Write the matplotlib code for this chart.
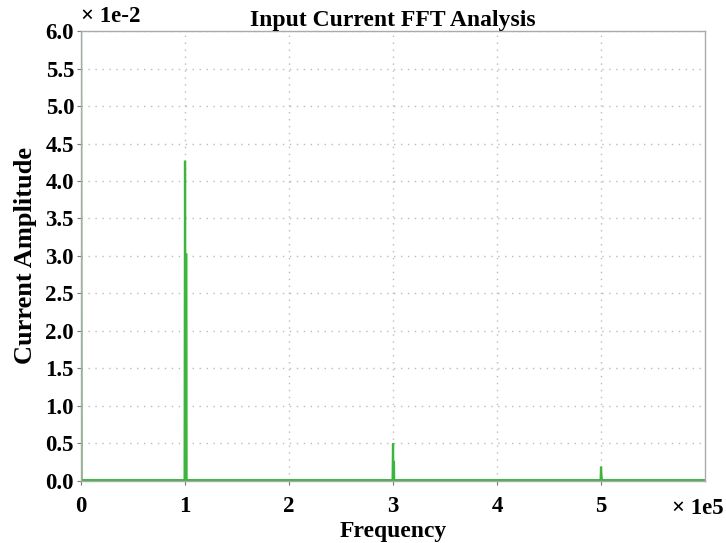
import matplotlib
matplotlib.use('Agg')
import matplotlib.pyplot as plt

# FFT spectrum of the input current (frequency in Hz, amplitude in units of 1e-2)
freq_hz = [0, 0, 500, 99600, 100000, 100150, 101300, 101500,
           299600, 300000, 300150, 300900, 301100,
           499600, 500000, 500300, 500900, 600000]
amp_e2 = [6.5, 6.5, 0.0, 0.0, 4.27, 3.02, 3.02, 0.0,
          0.0, 0.50, 0.25, 0.25, 0.0,
          0.0, 0.19, 0.10, 0.0, 0.0]

x_ticks = [0, 1, 2, 3, 4, 5]
y_ticks = [0.0, 0.5, 1.0, 1.5, 2.0, 2.5, 3.0, 3.5, 4.0, 4.5, 5.0, 5.5, 6.0]

plt.rcParams['font.family'] = ['Liberation Serif', 'DejaVu Serif']
plt.rcParams['font.weight'] = 'bold'

fig = plt.figure(figsize=(7.26, 5.43), dpi=100)
ax = fig.add_axes([0.1116, 0.1142, 0.8595, 0.8287])

xs = [f / 1e5 for f in freq_hz]
ax.plot(xs, amp_e2, color='#3cb53c', lw=1.6, solid_joinstyle='miter')
# heavier baseline along zero
ax.axhline(0, color='#3cb53c', lw=2.8, zorder=1.9)

ax.set_xlim(0, 6.0)
ax.set_ylim(0, 6.0)
ax.set_xticks(x_ticks)
ax.set_xticklabels([str(t) for t in x_ticks])
ax.set_yticks(y_ticks)
ax.set_yticklabels(['%.1f' % t for t in y_ticks])
ax.tick_params(labelsize=16.5, length=3, width=0.8, color='#777777', pad=2)
ax.tick_params(axis='x', pad=8)
for lab in ax.get_xticklabels() + ax.get_yticklabels():
    lab.set_fontweight('bold')

ax.grid(True, color='#bbbbbb', linestyle=(0, (1, 4)), lw=1.0)
for s in ax.spines.values():
    s.set_color('#aaaaaa')
    s.set_linewidth(1.0)

ax.set_title('Input Current FFT Analysis', fontsize=17, fontweight='bold', pad=3)
ax.set_xlabel('Frequency', fontsize=17, fontweight='bold', labelpad=3)
ax.set_ylabel('Current Amplitude', fontsize=19, fontweight='bold', labelpad=6)

ax.text(0.0, 1.008, '\u00d7 1e-2', transform=ax.transAxes, fontsize=16.5,
        fontweight='bold', ha='left', va='bottom')
ax.text(1.03, -0.037, '\u00d7 1e5', transform=ax.transAxes, fontsize=16.5,
        fontweight='bold', ha='right', va='top')

fig.savefig('out.png', dpi=100)
